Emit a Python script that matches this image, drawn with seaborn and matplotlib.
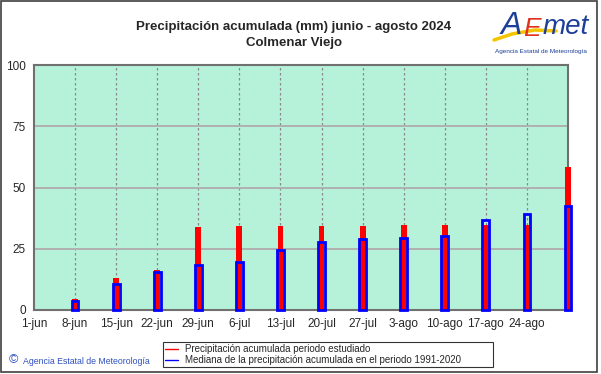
import numpy as np
import pandas as pd
import matplotlib
matplotlib.use("Agg")
import matplotlib.pyplot as plt
from matplotlib.patches import Rectangle
from matplotlib.lines import Line2D
import seaborn as sns

# --------------------------------------------
# DATOS
# --------------------------------------------
etiquetas = ["1-jun", "8-jun", "15-jun", "22-jun", "29-jun", "6-jul", "13-jul",
             "20-jul", "27-jul", "3-ago", "10-ago", "17-ago", "24-ago"]
ticks_dia = [0, 7, 14, 21, 28, 35, 42, 49, 56, 63, 70, 77, 84]

dias = [7, 14, 21, 28, 35, 42, 49, 56, 63, 70, 77, 84, 91]
observada = [4.4, 13.2, 16.2, 34.0, 34.3, 34.3, 34.3, 34.4, 34.6, 34.6, 34.6, 34.6, 58.2]
mediana = [3.8, 10.5, 15.4, 18.4, 19.7, 24.5, 27.9, 29.0, 29.3, 30.2, 36.9, 39.0, 42.6]

# --------------------------------------------
# FIGURA
# --------------------------------------------
sns.set_style("white")
plt.rcParams['font.family'] = ['Liberation Sans', 'DejaVu Sans']

fig = plt.figure(figsize=(6.01, 3.74), dpi=100)
ax = fig.add_axes([34 / 601, 1 - 310 / 374, 534 / 601, 245 / 374])
ax.set_facecolor("#b6f2da")

df_obs = pd.DataFrame({"dia": dias, "valor": observada})
df_med = pd.DataFrame({"dia": dias, "valor": mediana})

sns.barplot(data=df_obs, x="dia", y="valor", native_scale=True, width=1.0 / 7,
            color="#ff0000", saturation=1, errorbar=None, linewidth=0, ax=ax)
n_red = len(ax.patches)
sns.barplot(data=df_med, x="dia", y="valor", native_scale=True, width=1.15 / 7,
            color="#0000ff", saturation=1, errorbar=None, fill=False,
            linewidth=2.0, ax=ax)
for p in ax.patches:
    p.set_clip_on(False)
for p in ax.patches[n_red:]:
    p.set_zorder(4)
for p in ax.patches[:n_red]:
    p.set_zorder(3)

ax.set_xlim(0, 91)
ax.set_ylim(0, 100)
ax.set_xticks(ticks_dia)
ax.set_xticklabels(etiquetas, fontsize=8.5)
ax.set_yticks([0, 25, 50, 75, 100])
ax.set_yticklabels(["0", "25", "50", "75", "100"], fontsize=8.5)
ax.tick_params(length=0, pad=6)
ax.set_xlabel("")
ax.set_ylabel("")

for d in ticks_dia[1:]:
    ax.axvline(d, color="#8a8a8a", lw=0.9, ls=(0, (2, 2)), zorder=1)
for v in [25, 50, 75]:
    ax.axhline(v, color="#b0b0b0", lw=1.4, zorder=1)

for s in ax.spines.values():
    s.set_color("#707070")
    s.set_linewidth(1.5)

# titulo
fig.text(294 / 601, 1 - 27 / 374, "Precipitación acumulada (mm) junio - agosto 2024",
         ha="center", va="center", fontsize=9.5, fontweight="bold")
fig.text(294 / 601, 1 - 43 / 374, "Colmenar Viejo",
         ha="center", va="center", fontsize=9.5, fontweight="bold")

# logo
fig.text(522 / 601, 1 - 26 / 374, "A", color="#1d3f9a", fontsize=23,
         style="italic", ha="right", va="center")
fig.text(523 / 601, 1 - 29 / 374, "E", color="#e03020", fontsize=19,
         style="italic", ha="left", va="center")
fig.text(543 / 601, 1 - 27 / 374, "met", color="#1d3f9a", fontsize=20,
         style="italic", ha="left", va="center")
fig.add_artist(Line2D([494 / 601, 512 / 601, 535 / 601, 556 / 601],
                      [1 - 40 / 374, 1 - 34 / 374, 1 - 30 / 374, 1 - 31 / 374],
                      color="#f5c400", lw=2.5))
fig.text(541 / 601, 1 - 52 / 374, "Agencia Estatal de Meteorología",
         color="#1d3f9a", fontsize=4.6, ha="center", va="center")

# copyright
fig.text(9 / 601, 1 - 360 / 374, "©", color="#3050c0", fontsize=9,
         ha="left", va="center")
fig.text(23 / 601, 1 - 361 / 374, "Agencia Estatal de Meteorología",
         color="#3050c0", fontsize=6.3, ha="left", va="center")

# leyenda
handles = [Line2D([], [], color="#ff0000", lw=1),
           Line2D([], [], color="#0000ff", lw=1)]
leg = fig.legend(handles,
                 ["Precipitación acumulada periodo estudiado",
                  "Mediana de la precipitación acumulada en el periodo 1991-2020"],
                 loc="lower left", mode="expand",
                 bbox_to_anchor=(163 / 601, 7 / 374, 330 / 601, 24 / 374),
                 fontsize=7, frameon=True, fancybox=False, handlelength=1.3,
                 handletextpad=0.8, borderpad=0.2, labelspacing=0.1,
                 borderaxespad=0)
leg.get_frame().set_edgecolor("black")
leg.get_frame().set_linewidth(0.8)

# borde de la figura
fig.add_artist(Rectangle((1 / 601, 2 / 374), 596 / 601, 371 / 374,
                         transform=fig.transFigure, fill=False,
                         edgecolor="#404040", lw=1.2))

fig.savefig("out.png", dpi=100)
